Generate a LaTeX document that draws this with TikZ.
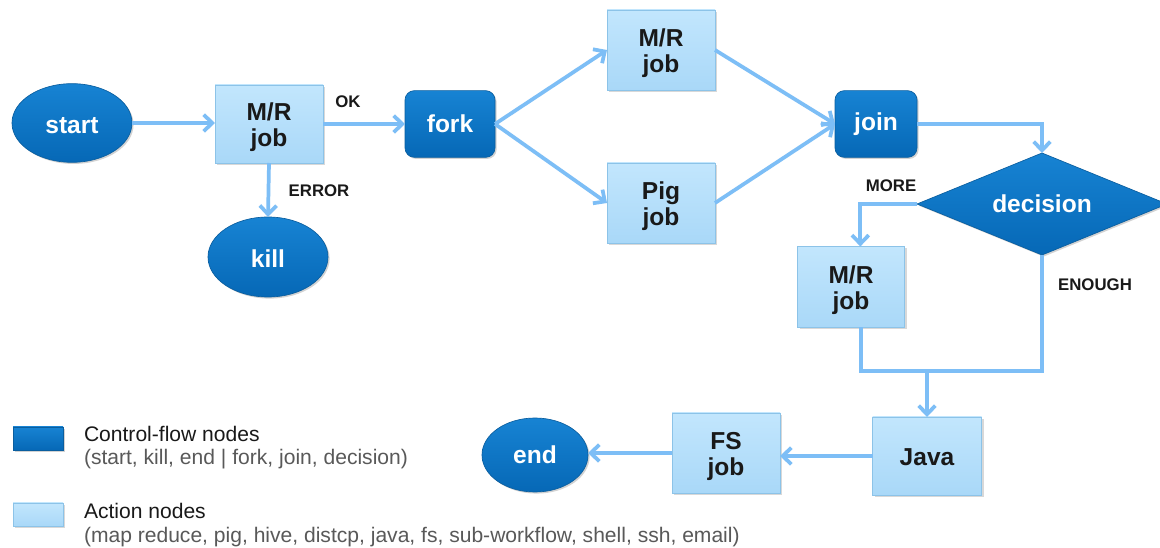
\documentclass[tikz,border=0pt]{standalone}
\usepackage{fontspec}
\setmainfont{Liberation Sans}
\usetikzlibrary{shapes.geometric,arrows.meta,shadows}

\definecolor{ctrltop}{HTML}{1783D3}
\definecolor{ctrlbot}{HTML}{0668B6}
\definecolor{ctrledge}{HTML}{0A5E9F}
\definecolor{acttop}{HTML}{C2E6FD}
\definecolor{actbot}{HTML}{A9D8F8}
\definecolor{actedge}{HTML}{8CC3E8}
\definecolor{flow}{HTML}{7DBEF6}
\definecolor{notegray}{HTML}{595959}

\newcommand\wfnodefont{\bfseries\fontsize{18.4}{19.5}\selectfont}
\newcommand\wflabelfont{\bfseries\fontsize{12.6}{14}\selectfont}
\newcommand\wflegendfont{\fontsize{15.8}{18}\selectfont}

\begin{document}
\begin{tikzpicture}[x=0.75pt,y=-0.75pt,
  every node/.style={inner sep=0pt, outer sep=0pt},
  ctrl/.style={top color=ctrltop, bottom color=ctrlbot, draw=ctrledge,
    line width=0.5pt, text=white, font=\wfnodefont,
    drop shadow={shadow xshift=1.2pt, shadow yshift=-1.2pt, opacity=0.35}},
  ctrlellipse/.style={ctrl, ellipse},
  ctrlround/.style={ctrl, rectangle, rounded corners=7pt},
  action/.style={rectangle, top color=acttop, bottom color=actbot, draw=actedge,
    line width=0.6pt, text=black!90, font=\wfnodefont, align=center,
    text height=37.7pt,
    drop shadow={shadow xshift=1.5pt, shadow yshift=-1.5pt, opacity=0.3}},
  flowline/.style={draw=flow, line width=2.8pt},
  flowarrow/.style={flowline, -{Straight Barb[length=6.5pt,width=12.5pt]}},
  edgelabel/.style={font=\wflabelfont, text=black!90},
  legendtitle/.style={font=\wflegendfont, text=black!90, anchor=base west},
  legendnote/.style={font=\wflegendfont, text=notegray, anchor=base west},
]
\fill[white] (0,0) rectangle (1160,548);
\useasboundingbox (0,0) rectangle (1160,548);

% control-flow nodes
\node[ctrlellipse, minimum width=90pt, minimum height=59pt, text height=16pt] (start) at (72,123) {start};
\node[ctrlellipse, minimum width=90pt, minimum height=60pt, text height=16pt] (kill) at (268,257) {kill};
\node[ctrlround, minimum width=67.5pt, minimum height=50pt] (fork) at (450,124) {fork};
\node[ctrlround, minimum width=61.5pt, minimum height=50pt] (join) at (876,124) {join};
\node[ctrl, diamond, shape aspect=2.45, minimum width=187.5pt, minimum height=76.5pt] (decision) at (1042,204) {decision};
\node[ctrlellipse, minimum width=79.5pt, minimum height=55.5pt] (end) at (535,455) {end};

% action nodes
\node[action, minimum width=81pt, minimum height=58.5pt] (mr1) at (269,124) {M/R\\job};
\node[action, minimum width=81pt, minimum height=60pt] (mr2) at (661,50) {M/R\\job};
\node[action, minimum width=81pt, minimum height=60pt] (pig) at (661,203) {Pig\\job};
\node[action, minimum width=80.25pt, minimum height=60.75pt] (mr3) at (851,287) {M/R\\job};
\node[action, minimum width=81.75pt, minimum height=58.5pt, text height=15pt] (java) at (927,456) {Java};
\node[action, minimum width=81pt, minimum height=60pt] (fs) at (726,453) {FS\\job};

% transitions
\draw[flowarrow] (start.east) -- (start.east -| mr1.west);
\draw[flowarrow] (mr1.east) -- (fork.west);
\draw[flowarrow] (mr1.south) -- (kill.north);
\draw[flowarrow] (fork.east) -- (mr2.west);
\draw[flowarrow] (fork.east) -- (pig.west);
\draw[flowarrow] (mr2.east) -- (join.west);
\draw[flowarrow] (pig.east) -- (join.west);
\draw[flowarrow] (join.east) -| (decision.north);
\draw[flowarrow] (decision.west) -| ([xshift=7pt]mr3.north);
\coordinate (merge) at (927,371);
\draw[flowline] ([xshift=7.5pt]mr3.south) |- (merge) -| (decision.south);
\draw[flowarrow] (merge) -- (java.north);
\draw[flowarrow] (java.west) -- (java.west -| fs.east);
\draw[flowarrow] (fs.west) -- (fs.west -| end.east);

% transition labels
\node[edgelabel] (ok) at (348,102) {OK};
\node[edgelabel] (error) at (319,191) {ERROR};
\node[edgelabel] (more) at (891,186) {MORE};
\node[edgelabel] (enough) at (1095,285) {ENOUGH};

% legend
\node[ctrl, rectangle, minimum width=37.5pt, minimum height=17.25pt] (keyctrl) at (38,438.5) {};
\node[action, minimum width=37.5pt, minimum height=17.25pt, text height=0pt] (keyaction) at (38,514.5) {};
\node[legendtitle] (keyctrltitle) at (84,442) {Control-flow nodes};
\node[legendnote] (keyctrlnote) at (84,465) {(start, kill, end | fork, join, decision)};
\node[legendtitle] (keyactiontitle) at (84,518) {Action nodes};
\node[legendnote] (keyactionnote) at (84,542) {(map reduce, pig, hive, distcp, java, fs, sub-workflow, shell, ssh, email)};
\end{tikzpicture}
\end{document}
